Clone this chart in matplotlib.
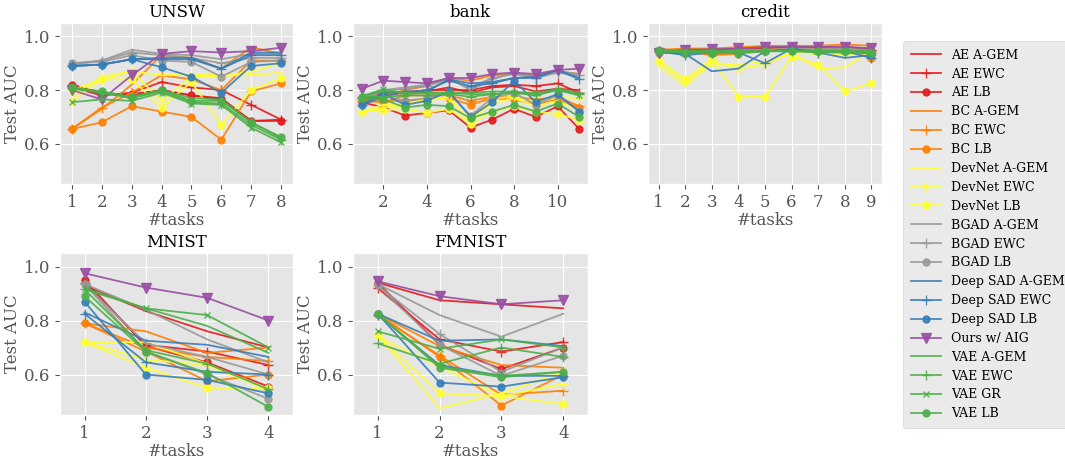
import numpy as np
import matplotlib
matplotlib.use("Agg")
import matplotlib.pyplot as plt

plt.style.use("ggplot")
plt.rcParams["font.family"] = ["DejaVu Serif"]

methods = ["AE A-GEM", "AE EWC", "AE LB", "BC A-GEM", "BC EWC", "BC LB",
           "DevNet A-GEM", "DevNet EWC", "DevNet LB", "BGAD A-GEM", "BGAD EWC", "BGAD LB",
           "Deep SAD A-GEM", "Deep SAD EWC", "Deep SAD LB", "Ours w/ AIG",
           "VAE A-GEM", "VAE EWC", "VAE GR", "VAE LB"]

datasets = ["UNSW", "bank", "credit", "MNIST", "FMNIST"]

# rows follow the order of `methods`
unsw_auc = [
    [0.82, 0.79, 0.78, 0.80, 0.78, 0.77, 0.685, 0.69],
    [0.81, 0.78, 0.79, 0.83, 0.81, 0.80, 0.745, 0.69],
    [0.82, 0.785, 0.785, 0.80, 0.78, 0.765, 0.685, 0.685],
    [0.655, 0.73, 0.82, 0.93, 0.92, 0.88, 0.96, 0.935],
    [0.655, 0.735, 0.79, 0.855, 0.84, 0.80, 0.91, 0.91],
    [0.655, 0.68, 0.74, 0.72, 0.70, 0.615, 0.795, 0.825],
    [0.78, 0.85, 0.87, 0.855, 0.86, 0.855, 0.855, 0.865],
    [0.76, 0.84, 0.87, 0.76, 0.85, 0.85, 0.87, 0.90],
    [0.80, 0.84, 0.84, 0.735, 0.83, 0.67, 0.80, 0.845],
    [0.90, 0.91, 0.95, 0.935, 0.93, 0.915, 0.935, 0.935],
    [0.895, 0.91, 0.94, 0.93, 0.92, 0.90, 0.92, 0.92],
    [0.90, 0.905, 0.93, 0.91, 0.905, 0.85, 0.905, 0.91],
    [0.89, 0.895, 0.915, 0.92, 0.92, 0.88, 0.94, 0.94],
    [0.89, 0.895, 0.915, 0.915, 0.915, 0.88, 0.93, 0.93],
    [0.89, 0.895, 0.915, 0.885, 0.85, 0.79, 0.89, 0.90],
    [0.80, 0.765, 0.855, 0.935, 0.945, 0.94, 0.945, 0.958],
    [0.81, 0.79, 0.775, 0.80, 0.77, 0.765, 0.68, 0.62],
    [0.805, 0.79, 0.77, 0.795, 0.755, 0.75, 0.67, 0.615],
    [0.755, 0.765, 0.76, 0.79, 0.75, 0.745, 0.66, 0.605],
    [0.81, 0.795, 0.775, 0.80, 0.76, 0.76, 0.68, 0.625],
]

bank_auc = [
    [0.76, 0.79, 0.795, 0.795, 0.81, 0.79, 0.81, 0.815, 0.795, 0.805, 0.80],
    [0.77, 0.78, 0.79, 0.80, 0.80, 0.80, 0.815, 0.82, 0.815, 0.825, 0.79],
    [0.755, 0.735, 0.705, 0.715, 0.725, 0.66, 0.69, 0.73, 0.70, 0.74, 0.655],
    [0.76, 0.775, 0.80, 0.815, 0.845, 0.835, 0.855, 0.86, 0.855, 0.87, 0.86],
    [0.76, 0.755, 0.78, 0.78, 0.78, 0.76, 0.775, 0.775, 0.765, 0.775, 0.74],
    [0.755, 0.76, 0.76, 0.765, 0.77, 0.745, 0.77, 0.765, 0.745, 0.765, 0.735],
    [0.72, 0.735, 0.745, 0.77, 0.765, 0.69, 0.75, 0.77, 0.74, 0.76, 0.725],
    [0.72, 0.745, 0.75, 0.76, 0.775, 0.68, 0.77, 0.775, 0.755, 0.775, 0.77],
    [0.72, 0.725, 0.73, 0.715, 0.73, 0.675, 0.72, 0.74, 0.72, 0.71, 0.69],
    [0.77, 0.80, 0.81, 0.82, 0.845, 0.80, 0.84, 0.865, 0.85, 0.87, 0.86],
    [0.77, 0.795, 0.805, 0.815, 0.84, 0.81, 0.845, 0.86, 0.845, 0.865, 0.855],
    [0.775, 0.78, 0.76, 0.77, 0.79, 0.705, 0.77, 0.79, 0.745, 0.78, 0.72],
    [0.745, 0.775, 0.795, 0.795, 0.84, 0.825, 0.83, 0.845, 0.85, 0.875, 0.845],
    [0.745, 0.79, 0.79, 0.80, 0.835, 0.815, 0.825, 0.845, 0.845, 0.875, 0.84],
    [0.745, 0.785, 0.745, 0.76, 0.795, 0.70, 0.755, 0.835, 0.755, 0.785, 0.72],
    [0.805, 0.835, 0.83, 0.825, 0.845, 0.845, 0.86, 0.865, 0.86, 0.875, 0.88],
    [0.78, 0.795, 0.79, 0.79, 0.79, 0.79, 0.795, 0.795, 0.785, 0.805, 0.79],
    [0.775, 0.775, 0.78, 0.78, 0.785, 0.775, 0.785, 0.79, 0.78, 0.80, 0.785],
    [0.775, 0.805, 0.785, 0.79, 0.79, 0.785, 0.785, 0.79, 0.79, 0.80, 0.78],
    [0.77, 0.765, 0.735, 0.745, 0.74, 0.695, 0.72, 0.745, 0.72, 0.75, 0.70],
]

credit_auc = [
    [0.95, 0.95, 0.95, 0.955, 0.96, 0.96, 0.96, 0.96, 0.955],
    [0.945, 0.945, 0.945, 0.95, 0.955, 0.955, 0.955, 0.955, 0.95],
    [0.945, 0.94, 0.94, 0.945, 0.95, 0.95, 0.95, 0.95, 0.945],
    [0.95, 0.955, 0.955, 0.96, 0.965, 0.965, 0.965, 0.97, 0.965],
    [0.945, 0.95, 0.935, 0.94, 0.95, 0.955, 0.955, 0.96, 0.93],
    [0.945, 0.945, 0.93, 0.935, 0.945, 0.95, 0.945, 0.95, 0.92],
    [0.89, 0.815, 0.90, 0.895, 0.905, 0.94, 0.88, 0.885, 0.945],
    [0.905, 0.83, 0.905, 0.88, 0.895, 0.94, 0.935, 0.93, 0.94],
    [0.91, 0.84, 0.915, 0.775, 0.775, 0.925, 0.895, 0.795, 0.825],
    [0.945, 0.945, 0.945, 0.95, 0.95, 0.955, 0.955, 0.955, 0.95],
    [0.945, 0.94, 0.945, 0.945, 0.95, 0.95, 0.95, 0.95, 0.945],
    [0.94, 0.94, 0.94, 0.945, 0.945, 0.95, 0.945, 0.945, 0.94],
    [0.94, 0.935, 0.87, 0.88, 0.945, 0.95, 0.94, 0.92, 0.93],
    [0.945, 0.93, 0.94, 0.94, 0.90, 0.955, 0.94, 0.945, 0.92],
    [0.945, 0.94, 0.94, 0.945, 0.945, 0.95, 0.945, 0.945, 0.935],
    [0.94, 0.95, 0.952, 0.955, 0.96, 0.962, 0.96, 0.962, 0.955],
    [0.945, 0.945, 0.945, 0.945, 0.945, 0.945, 0.945, 0.945, 0.945],
    [0.945, 0.94, 0.94, 0.94, 0.945, 0.945, 0.94, 0.94, 0.94],
    [0.95, 0.945, 0.945, 0.945, 0.945, 0.945, 0.945, 0.945, 0.945],
    [0.945, 0.94, 0.94, 0.94, 0.945, 0.945, 0.945, 0.945, 0.94],
]

mnist_auc = [
    [0.93, 0.835, 0.76, 0.70],
    [0.94, 0.71, 0.685, 0.635],
    [0.95, 0.705, 0.645, 0.555],
    [0.79, 0.76, 0.68, 0.70],
    [0.79, 0.70, 0.665, 0.65],
    [0.79, 0.685, 0.575, 0.60],
    [0.72, 0.72, 0.64, 0.54],
    [0.72, 0.655, 0.635, 0.545],
    [0.72, 0.625, 0.55, 0.55],
    [0.935, 0.84, 0.73, 0.645],
    [0.935, 0.715, 0.665, 0.60],
    [0.935, 0.685, 0.60, 0.51],
    [0.83, 0.725, 0.71, 0.665],
    [0.825, 0.645, 0.61, 0.60],
    [0.87, 0.60, 0.58, 0.53],
    [0.975, 0.922, 0.884, 0.80],
    [0.92, 0.845, 0.78, 0.68],
    [0.915, 0.69, 0.64, 0.545],
    [0.915, 0.845, 0.82, 0.70],
    [0.89, 0.685, 0.605, 0.48],
]

fmnist_auc = [
    [0.94, 0.875, 0.86, 0.845],
    [0.92, 0.73, 0.685, 0.72],
    [0.94, 0.71, 0.62, 0.70],
    [0.825, 0.705, 0.635, 0.625],
    [0.82, 0.67, 0.525, 0.54],
    [0.825, 0.665, 0.485, 0.60],
    [0.745, 0.475, 0.53, 0.61],
    [0.74, 0.63, 0.52, 0.565],
    [0.745, 0.53, 0.52, 0.49],
    [0.935, 0.82, 0.74, 0.825],
    [0.93, 0.75, 0.61, 0.70],
    [0.93, 0.71, 0.595, 0.67],
    [0.825, 0.725, 0.73, 0.705],
    [0.82, 0.635, 0.595, 0.595],
    [0.825, 0.57, 0.555, 0.59],
    [0.945, 0.89, 0.86, 0.875],
    [0.825, 0.63, 0.595, 0.61],
    [0.715, 0.64, 0.70, 0.665],
    [0.76, 0.695, 0.73, 0.70],
    [0.825, 0.625, 0.59, 0.61],
]

all_auc = [unsw_auc, bank_auc, credit_auc, mnist_auc, fmnist_auc]

colors = {"AE": "#e41a1c", "BC": "#ff7f00", "DevNet": "#ffff33", "BGAD": "#999999",
          "Deep SAD": "#377eb8", "Ours": "#984ea3", "VAE": "#4daf4a"}
markers = {"A-GEM": None, "EWC": "+", "LB": "o", "GR": "x", "AIG": "v"}


def style(name):
    base, variant = name.rsplit(" ", 1)
    if base.startswith("Ours"):
        base = "Ours"
    return colors[base], markers[variant]


fig = plt.figure(figsize=(10.65, 4.59), dpi=100)
W, H = 1065, 459
rects = [(60, 23, 233, 161), (353, 23, 235, 161), (648, 23, 234, 161),
         (60, 253, 233, 162), (353, 253, 235, 162)]

handles = []
for i, (name, data) in enumerate(zip(datasets, all_auc)):
    l, t, w, h = rects[i]
    ax = fig.add_axes([l / W, 1 - (t + h) / H, w / W, h / H])
    for m, vals in zip(methods, data):
        c, mk = style(m)
        x = np.arange(1, len(vals) + 1)
        ms = 6.5 if mk in ("+", "v") else 5
        ln, = ax.plot(x, vals, color=c, marker=mk, markersize=ms, lw=1.3,
                      alpha=0.9, label=m)
        if i == 0:
            handles.append(ln)
    ax.set_title(name, fontsize=12, color="black", pad=4)
    ax.set_ylim(0.45, 1.05)
    ax.set_yticks([0.6, 0.8, 1.0])
    n = len(data[0])
    if name == "bank":
        ax.set_xticks([2, 4, 6, 8, 10])
    else:
        ax.set_xticks(np.arange(1, n + 1))
    ax.set_xlim(0.6, n + 0.4)
    ax.set_xlabel("#tasks", fontsize=12, color="#555555", labelpad=1)
    ax.set_ylabel("Test AUC", fontsize=12, color="#555555", labelpad=2)
    ax.tick_params(labelsize=12, colors="#555555")

fig.legend(handles=handles, loc="upper left", bbox_to_anchor=(897 / W, 1 - 35 / H),
           fontsize=9, frameon=True, handlelength=2.4, labelspacing=0.47,
           borderpad=0.6, handletextpad=0.8)

fig.savefig("out.png", dpi=100)
